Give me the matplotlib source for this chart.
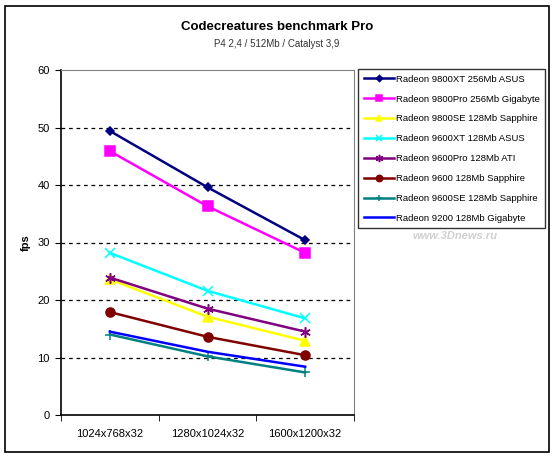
import matplotlib
matplotlib.use('Agg')
import matplotlib.pyplot as plt
from matplotlib.patches import Rectangle

categories = ['1024x768x32', '1280x1024x32', '1600x1200x32']

series_names = [
    'Radeon 9800XT 256Mb ASUS',
    'Radeon 9800Pro 256Mb Gigabyte',
    'Radeon 9800SE 128Mb Sapphire',
    'Radeon 9600XT 128Mb ASUS',
    'Radeon 9600Pro 128Mb ATI',
    'Radeon 9600 128Mb Sapphire',
    'Radeon 9600SE 128Mb Sapphire',
    'Radeon 9200 128Mb Gigabyte',
]

r9800xt = [49.4, 39.6, 30.4]
r9800pro = [45.9, 36.3, 28.2]
r9800se = [23.6, 17.1, 12.9]
r9600xt = [28.2, 21.6, 16.8]
r9600pro = [23.9, 18.5, 14.5]
r9600 = [17.9, 13.6, 10.4]
r9600se = [14.0, 10.2, 7.4]
r9200 = [14.5, 11.0, 8.4]

values = [r9800xt, r9800pro, r9800se, r9600xt, r9600pro, r9600, r9600se, r9200]

colors = ['#000080', '#FF00FF', '#FFFF00', '#00FFFF', '#800080', '#800000', '#008080', '#0000FF']
markers = ['D', 's', '^', 'x', (6, 2, 0), 'o', '+', None]
msizes = [4.5, 6.5, 6.5, 6.5, 7.5, 6.5, 7, 0]

plt.rcParams['font.family'] = ['Liberation Sans', 'DejaVu Sans']

fig = plt.figure(figsize=(5.54, 4.58), dpi=100)
W, H = 554, 458

# outer frame of the picture
fig.patches.append(Rectangle((5 / W, 6 / H), 544 / W, 446 / H, transform=fig.transFigure,
                             fill=False, edgecolor='black', linewidth=1.2))

ax = fig.add_axes([61 / W, (H - 415) / H, 293 / W, 345 / H])

x = list(range(len(categories)))
for name, vals, c, m, ms in zip(series_names, values, colors, markers, msizes):
    ax.plot(x, vals, color=c, linewidth=1.8, marker=m, markersize=ms,
            markeredgecolor=c, markerfacecolor=c, markeredgewidth=1.1, label=name)

ax.set_xlim(-0.5, 2.5)
ax.set_ylim(0, 60)
ax.set_yticks(range(0, 61, 10))
ax.set_xticks(x)
ax.set_xticklabels(categories, fontsize=8)
ax.set_xticks([-0.5, 0.5, 1.5, 2.5], minor=True)
ax.tick_params(axis='x', which='major', length=0, pad=10)
ax.tick_params(axis='x', which='minor', length=4, direction='out')
ax.tick_params(axis='y', length=4, direction='out', labelsize=8, pad=4)

for y in range(10, 60, 10):
    ax.axhline(y, color='black', linestyle=(0, (3, 3)), linewidth=0.9, zorder=0)

for s in ['top', 'right']:
    ax.spines[s].set_color('#808080')
ax.spines['left'].set_linewidth(1.2)
ax.spines['bottom'].set_linewidth(1.2)

ax.set_ylabel('fps', fontsize=8, fontweight='bold', labelpad=5)

fig.text(0.5, 1 - 27 / H, 'Codecreatures benchmark Pro', ha='center', va='center',
         fontsize=9.5, fontweight='bold')
fig.text(0.5, 1 - 44 / H, 'P4 2,4 / 512Mb / Catalyst 3,9', ha='center', va='center',
         fontsize=7, color='#333333')

leg = ax.legend(loc='upper left', bbox_to_anchor=(358 / W, 1 - 69 / H), bbox_transform=fig.transFigure,
                fontsize=6.8, frameon=True, fancybox=False, edgecolor='black', handlelength=3.2,
                handletextpad=0.2, labelspacing=1.15, borderpad=0.6, borderaxespad=0, markerscale=0.7)
leg.get_frame().set_linewidth(1.0)

fig.text(455 / W, 1 - 236 / H, 'www.3Dnews.ru', ha='center', va='center', fontsize=8,
         style='italic', color='#d0d0d0', fontweight='bold')

fig.savefig('out.png', dpi=100)
